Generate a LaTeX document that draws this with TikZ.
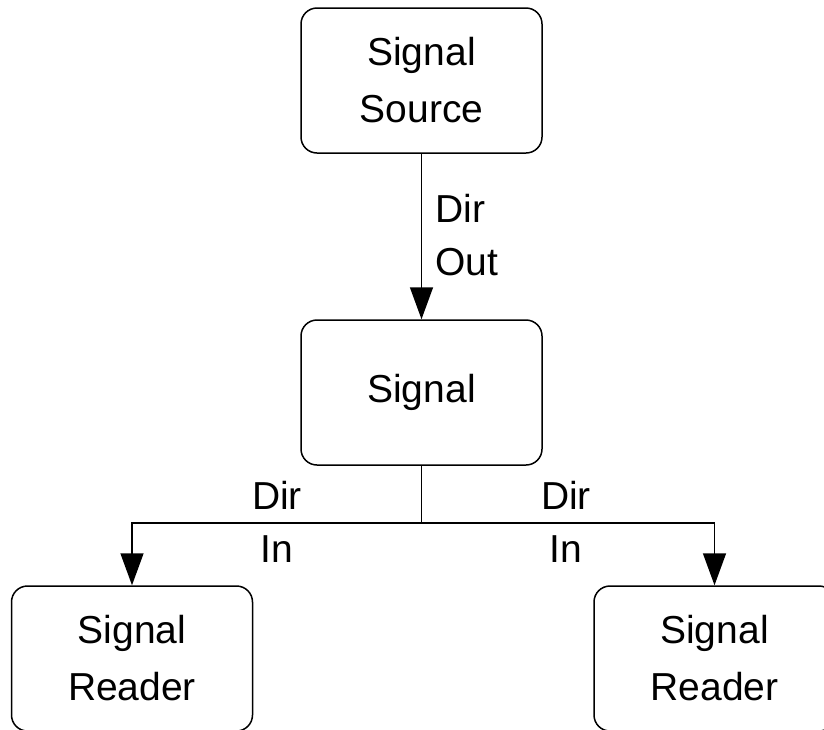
\documentclass[tikz,border=0pt]{standalone}
\usepackage{fontspec}
\setmainfont{Liberation Sans}
\usetikzlibrary{arrows.meta}
\tikzset{
	block/.style={draw, line width=1.5pt, rounded corners=16pt, minimum width=241pt, minimum height=145pt, align=center, font=\fontsize{39}{57}\selectfont},
	lbl/.style={font=\fontsize{39}{53}\selectfont, inner sep=0pt},
	arr/.style={line width=1.5pt, -{Triangle[width=23pt,length=32pt]}}
}

\begin{document}
\begin{tikzpicture}[x=1pt, y=-1pt]
			%%%%% START %%%%%
			
			\useasboundingbox (0, 0) rectangle (824, 729);
			\clip (0, 0) rectangle (824, 729);
			
			\node[block] (src) at (421.5, 80.5) {Signal\\Source};
			\node[block] (sig) at (421.5, 392.5) {Signal};
			\node[block] (rdrL) at (132, 658.5) {Signal\\Reader};
			\node[block] (rdrR) at (714.5, 658.5) {Signal\\Reader};
			
			\draw[arr] (src.south) -- (sig.north);
			\node[lbl, align=left, anchor=west] (out) at (435, 235.5) {Dir\\Out};
			
			\coordinate (fork) at (421.5, 523);
			\draw[line width=1.5pt] (sig.south) -- (fork);
			\draw[arr] (fork) -| (rdrL.north);
			\draw[arr] (fork) -| (rdrR.north);
			
			\node[lbl, align=center] (inL) at (277, 521.5) {Dir\\In};
			\node[lbl, align=center] (inR) at (566, 521.5) {Dir\\In};
			
			%%%%% END %%%%%
\end{tikzpicture}
\end{document}
